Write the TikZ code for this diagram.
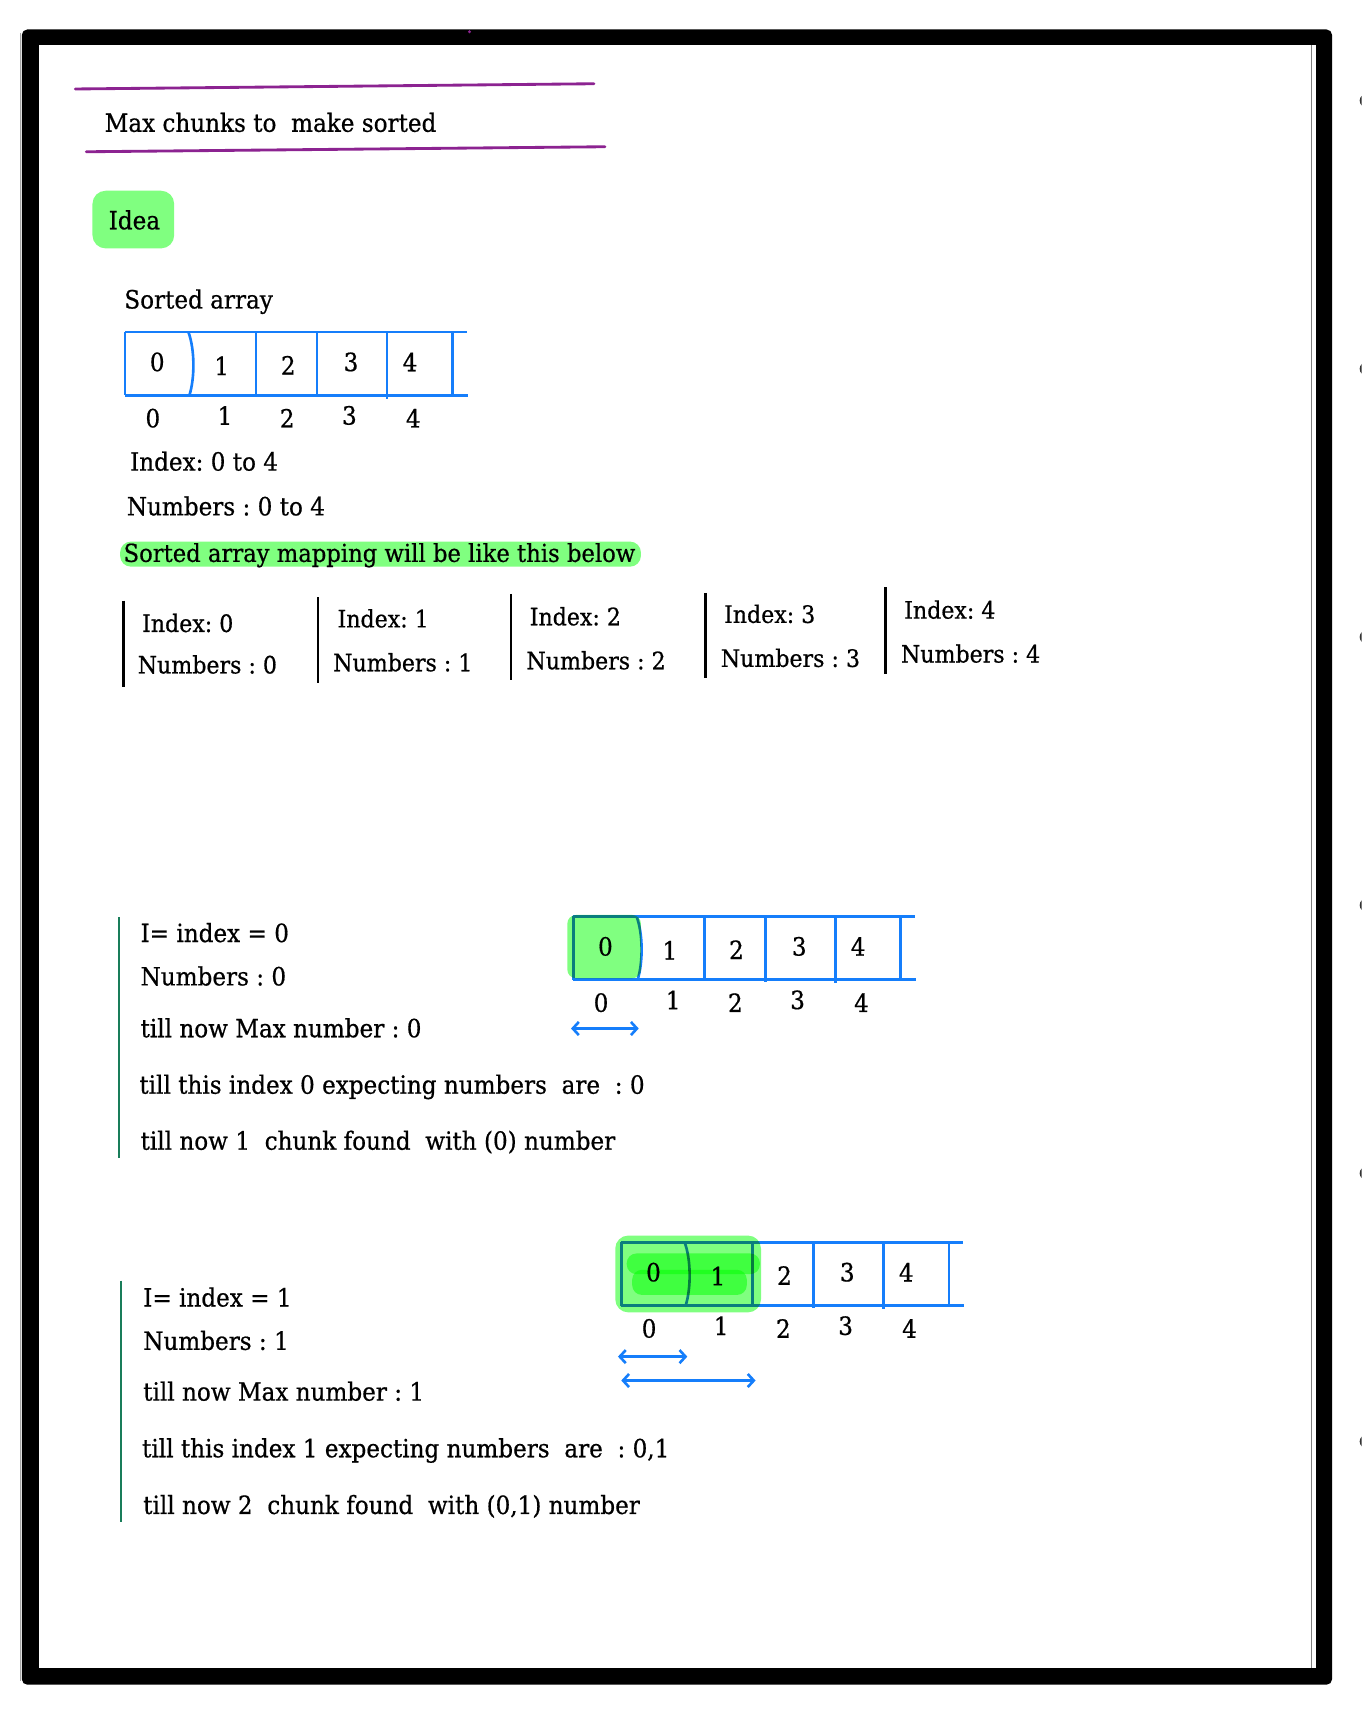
\documentclass[tikz,border=0pt]{standalone}
\usepackage{fontspec}
\setmainfont{DejaVu Serif}[FakeStretch=0.92,FakeBold=0.6]
\usetikzlibrary{arrows.meta}
\definecolor{arrblue}{RGB}{21,126,251}
\definecolor{hlgreen}{RGB}{128,255,128}
\definecolor{ttlpurple}{RGB}{140,35,145}
\definecolor{secgreen}{RGB}{25,125,90}
\tikzset{
  txt/.style={anchor=base west, inner sep=0pt, font=\fontsize{23}{28}\selectfont},
  maptxt/.style={anchor=base west, inner sep=0pt, font=\fontsize{22}{27}\selectfont},
  dig/.style={anchor=center, inner sep=0pt, font=\fontsize{23}{28}\selectfont},
  arrline/.style={draw=arrblue, line width=2.4pt},
  dblarrow/.style={arrblue, line width=2.4pt, {Straight Barb[length=5.5pt,width=12pt]}-{Straight Barb[length=5.5pt,width=12pt]}},
  secbar/.style={draw=secgreen, line width=2.2pt},
  mapbar/.style={draw=black, line width=2.2pt},
  ttlline/.style={draw=ttlpurple, line width=2.6pt, line cap=round}
}
\newcommand{\myarray}[3]{%
  \begin{scope}[shift={(#2,#3)}]
    \draw[arrline] (0,0) -- (313,0);
    \draw[arrline] (0,58) -- (314,58);
    \draw[arrline] (0,0) -- (0,58);
    \draw[arrline] (58,0) .. controls (64,16) and (64,42) .. (59,58);
    \draw[arrline] (120,0) -- (120,59);
    \draw[arrline] (176,0) -- (176,60);
    \draw[arrline] (240,0) -- (240,61);
    \draw[arrline] (300,0) -- (300,59);
    \node[dig] (#1c0) at (29.5,27.5) {0};
    \node[dig] (#1c1) at (88.5,31) {1};
    \node[dig] (#1c2) at (149.5,30.5) {2};
    \node[dig] (#1c3) at (207,27.5) {3};
    \node[dig] (#1c4) at (261,27.5) {4};
    \node[dig] (#1i0) at (25.5,79) {0};
    \node[dig] (#1i1) at (91.5,76.5) {1};
    \node[dig] (#1i2) at (148.5,79) {2};
    \node[dig] (#1i3) at (205.5,76.5) {3};
    \node[dig] (#1i4) at (264,79) {4};
  \end{scope}}
\frenchspacing
\begin{document}
\begin{tikzpicture}[x=1pt,y=-1pt]
\useasboundingbox (0,0) rectangle (1247,1568);
\clip (0,0) rectangle (1247,1568);
\fill[white] (0,0) rectangle (1247,1568);
% frame
\draw[gray!70, line width=1pt] (19,30) -- (19,1540);
\fill[black, rounded corners=5pt] (20,27) rectangle (1220,1543);
\fill[white] (36,41.5) rectangle (1205,1528);
\draw[gray, line width=0.8pt] (1201,41.5) -- (1201,1528);
\fill[ttlpurple] (430,29) circle (1.5);
\foreach \yy in {92.2,337.8,583.4,829,1074.6,1320.2}
  \fill[black!80] (1251.5,\yy) circle (6.2);
% title
\draw[ttlline] (69,81.5) -- (544,76.7);
\draw[ttlline] (79,139) -- (554,134.4);
\node[txt] (title) at (95.7,120.7) {Max chunks to~ make sorted};
% idea
\fill[hlgreen, rounded corners=12pt] (84.7,174.7) rectangle (159.5,227.5);
\node[txt] (idea) at (99.4,210) {Idea};
\node[txt] (sorted) at (113.7,282.5) {Sorted array};
\myarray{a}{114.5}{304}
\node[txt] (idx) at (119,431) {Index: 0 to 4};
\node[txt] (nums) at (116,472) {Numbers : 0 to 4};
\fill[hlgreen, rounded corners=10pt] (110,496) rectangle (587,519);
\node[txt, font=\fontsize{22.6}{27}\selectfont] (mapping) at (113,514.6) {Sorted array mapping will be like this below};
% mapping block
\draw[mapbar] (113,550) -- (113,629);
\draw[mapbar] (291,547) -- (291,626);
\draw[mapbar] (468,544) -- (468,623);
\draw[mapbar] (646,543) -- (646,621);
\draw[mapbar] (811,538) -- (811,617);
\node[maptxt] (mi0) at (130,578.8) {Index: 0};
\node[maptxt] (mn0) at (126,616.8) {Numbers : 0};
\node[maptxt] (mi1) at (309,574.6) {Index: 1};
\node[maptxt] (mn1) at (305,614.8) {Numbers : 1};
\node[maptxt] (mi2) at (485,572.7) {Index: 2};
\node[maptxt] (mn2) at (482,613) {Numbers : 2};
\node[maptxt] (mi3) at (663,570.5) {Index: 3};
\node[maptxt] (mn3) at (660,610.8) {Numbers : 3};
\node[maptxt] (mi4) at (828,566.6) {Index: 4};
\node[maptxt] (mn4) at (825,606.8) {Numbers : 4};
% section 2
\draw[secbar] (109,840) -- (109,1061);
\node[txt] (s2a) at (128.6,862.8) {I= index = 0};
\node[txt] (s2b) at (128.6,902.5) {Numbers : 0};
\node[txt] (s2c) at (128.6,950) {till now Max number : 0};
\node[txt] (s2d) at (127.5,1001.7) {till this index 0 expecting numbers~ are~ : 0};
\node[txt] (s2e) at (128.6,1053) {till now 1~ chunk found~ with (0) number};
\myarray{b}{525}{839.3}
\begin{scope}[blend mode=multiply]
  \fill[hlgreen, rounded corners=8pt] (519.6,838) rectangle (587,896);
\end{scope}
\coordinate (b2l) at (523,942);
\coordinate (b2r) at (585,942);
\draw[dblarrow] (b2l) -- (b2r);
% section 3
\draw[secbar] (111,1173) -- (111,1394);
\node[txt] (s3a) at (131,1196.6) {I= index = 1};
\node[txt] (s3b) at (131,1236.3) {Numbers : 1};
\node[txt] (s3c) at (131,1282.8) {till now Max number : 1};
\node[txt] (s3d) at (130,1334.7) {till this index 1 expecting numbers~ are~ : 0,1};
\node[txt] (s3e) at (131,1386.6) {till now 2~ chunk found~ with (0,1) number};
\myarray{c}{569}{1137.7}
\begin{scope}[blend mode=multiply]
  \fill[hlgreen, rounded corners=12pt] (563.5,1131.6) rectangle (697,1202);
  \fill[hlgreen, rounded corners=9pt] (574,1148) rectangle (696,1167);
  \fill[hlgreen, rounded corners=9pt] (579,1163) rectangle (684,1186);
\end{scope}
\coordinate (c1l) at (566,1242.5);
\coordinate (c1r) at (629.5,1242.5);
\draw[dblarrow] (c1l) -- (c1r);
\coordinate (c2l) at (569,1264.4);
\coordinate (c2r) at (692,1264.4);
\draw[dblarrow] (c2l) -- (c2r);
\end{tikzpicture}
\end{document}
